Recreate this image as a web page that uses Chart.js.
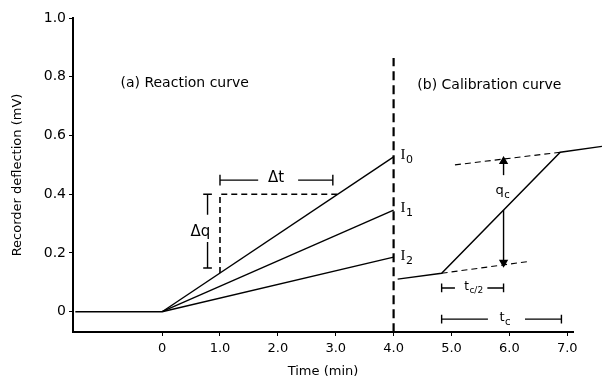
<!DOCTYPE html>
<html>
<head>
<meta charset="utf-8">
<script src="https://cdn.jsdelivr.net/npm/chart.js@4.4.1/dist/chart.umd.min.js"></script>
<style>
 body { margin: 0; background: #fff; }
 #wrap { width: 602px; height: 377px; }
</style>
</head>
<body>
<div id="wrap"><canvas id="recorderChart"></canvas></div>
<script>
// axes
let xTicks = [0, 1, 2, 3, 4, 5, 6, 7];
let xTickLabels = ['0', '1.0', '2.0', '3.0', '4.0', '5.0', '6.0', '7.0'];
let yTicks = [0, 0.2, 0.4, 0.6, 0.8, 1.0];
let yTickLabels = ['0', '0.2', '0.4', '0.6', '0.8', '1.0'];

// (a) reaction curves
let baseT = [-1.5, 0];
let baseQ = [0, 0];
let reactionT = [0, 4.0];
let I0 = [0, 0.527];
let I1 = [0, 0.346];
let I2 = [0, 0.186];
let markerT = [4.0, 4.0];
let markerQ = [-0.07, 0.864];
let rectT = [1.0, 1.0, 3.03];
let rectQ = [0.132, 0.4, 0.4];

// (b) calibration curve
let calT = [4.07, 4.83, 6.88, 7.6];
let calQ = [0.111, 0.131, 0.543, 0.563];
let upperExtT = [5.06, 6.88];
let upperExtQ = [0.500, 0.543];
let lowerExtT = [4.83, 6.33];
let lowerExtQ = [0.131, 0.171];

// brackets and arrows (null = gap)
let dqT = [0.71, 0.86, null, 0.785, 0.785, null, 0.785, 0.785, null, 0.71, 0.86];
let dqQ = [0.4, 0.4, null, 0.4, 0.33, null, 0.237, 0.149, null, 0.149, 0.149];
let dtT = [1.0, 1.0, null, 1.0, 1.66, null, 2.35, 2.95, null, 2.95, 2.95];
let dtQ = [0.43, 0.466, null, 0.448, 0.448, null, 0.448, 0.448, null, 0.43, 0.466];
let halfT = [4.83, 4.83, null, 4.83, 5.06, null, 5.62, 5.9, null, 5.9, 5.9];
let halfQ = [0.066, 0.096, null, 0.081, 0.081, null, 0.081, 0.081, null, 0.066, 0.096];
let fullT = [4.83, 4.83, null, 4.83, 5.63, null, 6.27, 6.9, null, 6.9, 6.9];
let fullQ = [-0.04, -0.01, null, -0.025, -0.025, null, -0.025, -0.025, null, -0.04, -0.01];
let qcUpT = [5.9, 5.9];
let qcUpQ = [0.465, 0.512];
let qcDownT = [5.9, 5.9];
let qcDownQ = [0.346, 0.168];

function pts(xs, ys) {
 return xs.map((x, i) => ({ x: x, y: ys[i] }));
}

function line(xs, ys, dashed, extra) {
 return Object.assign({
  data: pts(xs, ys),
  showLine: true,
  borderColor: '#000',
  borderWidth: dashed ? 1.6 : 1.4,
  borderDash: dashed ? [6, 4] : [],
  pointRadius: 0,
  spanGaps: false,
  clip: false,
 }, extra || {});
}

let font = '"DejaVu Sans", sans-serif';
let serif = '"Liberation Serif", serif';

function subText(ctx, x, y, main, sub, size, mainFont) {
 ctx.font = size + 'px ' + (mainFont || font);
 ctx.textAlign = 'left';
 ctx.textBaseline = 'middle';
 let w = ctx.measureText(main).width;
 ctx.fillText(main, x, y);
 ctx.font = Math.round(size * 0.75) + 'px ' + font;
 ctx.fillText(sub, x + w + 0.5, y + size * 0.35);
}

let labelsPlugin = {
 id: 'labels',
 afterDatasetsDraw(chart) {
  let ctx = chart.ctx;
  let sx = chart.scales.x, sy = chart.scales.y;
  let px = v => sx.getPixelForValue(v);
  let py = v => sy.getPixelForValue(v);
  ctx.save();
  ctx.fillStyle = '#000';
  ctx.font = '14px ' + font;
  ctx.textBaseline = 'middle';
  ctx.textAlign = 'left';
  ctx.fillText('(a) Reaction curve', px(-0.72), py(0.778));
  ctx.fillText('(b) Calibration curve', px(4.41), py(0.772));
  ctx.textAlign = 'center';
  ctx.font = '15px ' + font;
  ctx.fillText('\u0394q', px(0.66), py(0.27));
  ctx.fillText('\u0394t', px(1.97), py(0.455));
  subText(ctx, px(4.12), py(0.535), 'I', '0', 15, serif);
  subText(ctx, px(4.12), py(0.352), 'I', '1', 15, serif);
  subText(ctx, px(4.12), py(0.19), 'I', '2', 15, serif);
  subText(ctx, px(5.76), py(0.412), 'q', 'c', 13);
  subText(ctx, px(5.22), py(0.086), 't', 'c/2', 12);
  subText(ctx, px(5.83), py(-0.02), 't', 'c', 13);
  ctx.restore();
 }
};

let ctx = document.getElementById('recorderChart').getContext('2d');
let chart1 = new Chart(ctx, {
 type: 'scatter',
 data: {
  datasets: [
   line(baseT, baseQ, false),
   line(reactionT, I0, false),
   line(reactionT, I1, false),
   line(reactionT, I2, false),
   line(markerT, markerQ, true, { borderWidth: 2.2, borderDash: [9, 5] }),
   line(rectT, rectQ, true),
   line(calT, calQ, false),
   line(upperExtT, upperExtQ, true, { borderWidth: 1.1 }),
   line(lowerExtT, lowerExtQ, true, { borderWidth: 1.1 }),
   line(dqT, dqQ, false),
   line(dtT, dtQ, false),
   line(halfT, halfQ, false),
   line(fullT, fullQ, false),
   line(qcUpT, qcUpQ, false, { pointRadius: [0, 4], pointStyle: 'triangle', pointBackgroundColor: '#000', rotation: 0 }),
   line(qcDownT, qcDownQ, false, { pointRadius: [0, 4], pointStyle: 'triangle', pointBackgroundColor: '#000', rotation: 180 }),
  ]
 },
 options: {
  responsive: true,
  maintainAspectRatio: false,
  animation: false,
  layout: { padding: { top: 18, right: 29, left: 0, bottom: 0 } },
  plugins: { legend: { display: false }, tooltip: { enabled: false } },
  scales: {
   x: {
    type: 'linear',
    min: -1.54,
    max: 7.1,
    afterBuildTicks: s => { s.ticks = xTicks.map(v => ({ value: v })); },
    afterFit: s => { s.height = 45; },
    ticks: {
     color: '#000',
     font: { family: font, size: 13 },
     padding: 5,
     maxRotation: 0,
     callback: v => xTickLabels[xTicks.indexOf(v)],
    },
    grid: { display: true, drawOnChartArea: false, color: '#000', tickLength: 4, lineWidth: 1 },
    border: { color: '#000', width: 2 },
    title: { display: true, text: 'Time (min)', color: '#000', font: { family: font, size: 13 }, padding: { top: 0, bottom: -2 } },
   },
   y: {
    type: 'linear',
    min: -0.069,
    max: 1.0,
    afterBuildTicks: s => { s.ticks = yTicks.map(v => ({ value: v })); },
    afterFit: s => { s.width = 73; },
    ticks: {
     color: '#000',
     font: { family: font, size: 14 },
     padding: 3,
     callback: v => yTickLabels[yTicks.indexOf(v)],
    },
    grid: { display: true, drawOnChartArea: false, color: '#000', tickLength: 4, lineWidth: 1 },
    border: { color: '#000', width: 2 },
    title: { display: true, text: 'Recorder deflection (mV)', color: '#000', font: { family: font, size: 13 }, padding: { top: 10, bottom: 0 } },
   }
  }
 },
 plugins: [labelsPlugin]
});
</script>
</body>
</html>
